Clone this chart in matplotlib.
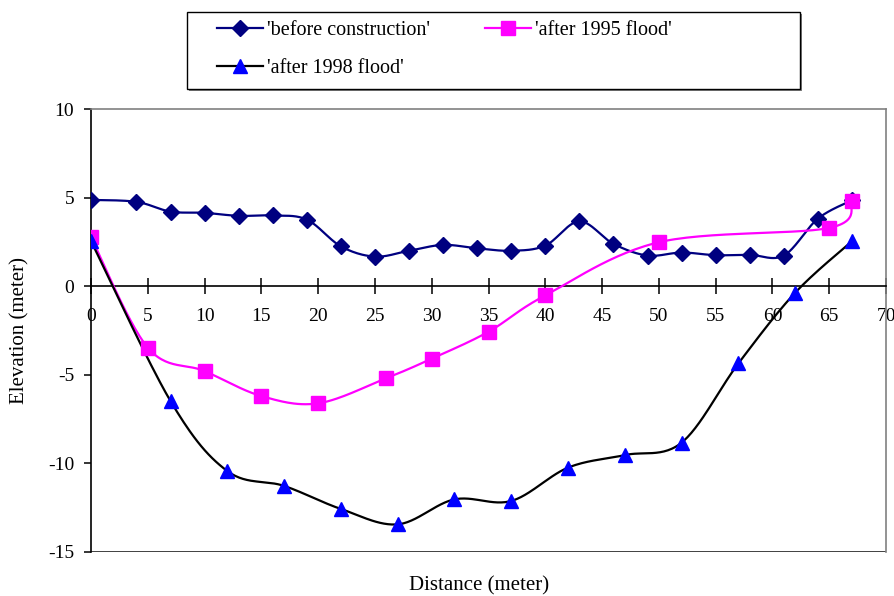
import numpy as np
import matplotlib
matplotlib.use("Agg")
import matplotlib.pyplot as plt
from matplotlib.lines import Line2D
from matplotlib.patches import Rectangle

plt.rcParams['font.family'] = ['Liberation Serif', 'DejaVu Serif']
plt.rcParams['axes.unicode_minus'] = False

# survey data
x_before = [0, 4, 7, 10, 13, 16, 19, 22, 25, 28, 31, 34, 37, 40, 43, 46, 49, 52, 55, 58, 61, 64, 67]
y_before = [4.87, 4.76, 4.21, 4.14, 3.97, 3.99, 3.76, 2.25, 1.67, 2.0, 2.33, 2.14, 2.0, 2.29, 3.66,
            2.39, 1.73, 1.9, 1.75, 1.77, 1.73, 3.81, 4.85]

x_1995 = [0, 5, 10, 15, 20, 26, 30, 35, 40, 50, 65, 67]
y_1995 = [2.76, -3.47, -4.79, -6.2, -6.61, -5.19, -4.09, -2.57, -0.52, 2.48, 3.29, 4.79]

x_1998 = [0, 7, 12, 17, 22, 27, 32, 37, 42, 47, 52, 57, 62, 67]
y_1998 = [2.55, -6.48, -10.43, -11.27, -12.57, -13.44, -12.03, -12.12, -10.24, -9.53, -8.83,
          -4.36, -0.37, 2.54]


def smooth(xs, ys, n=30):
    # Excel-style smoothed line (cardinal bezier through the points)
    p = np.column_stack([xs, ys]).astype(float)
    p = np.vstack([p[0], p, p[-1]])
    out = []
    t = np.linspace(0, 1, n)[:, None]
    for i in range(1, len(p) - 2):
        p0, p1, p2, p3 = p[i - 1], p[i], p[i + 1], p[i + 2]
        c1 = p1 + (p2 - p0) / 6
        c2 = p2 - (p3 - p1) / 6
        seg = ((1 - t) ** 3) * p1 + 3 * ((1 - t) ** 2) * t * c1 + 3 * (1 - t) * t ** 2 * c2 + t ** 3 * p2
        out.append(seg if i == 1 else seg[1:])
    s = np.vstack(out)
    return s[:, 0], s[:, 1]


W, H = 894, 596
fig = plt.figure(figsize=(W / 100, H / 100), dpi=100)
ax = fig.add_axes([91 / W, 1 - 552 / H, (886 - 91) / W, (552 - 109) / H])

navy = '#000080'
pink = '#FF00FF'

sx, sy = smooth(x_before, y_before)
ax.plot(sx, sy, color=navy, lw=1.6, zorder=3)
ax.plot(x_before, y_before, ls='none', marker='D', ms=8, color=navy, zorder=4)

sx, sy = smooth(x_1995, y_1995)
ax.plot(sx, sy, color=pink, lw=1.6, zorder=3)
ax.plot(x_1995, y_1995, ls='none', marker='s', ms=10, color=pink, zorder=5)

sx, sy = smooth(x_1998, y_1998)
ax.plot(sx, sy, color='black', lw=1.6, zorder=3)
ax.plot(x_1998, y_1998, ls='none', marker='^', ms=10, color='#0000FF', zorder=6)

ax.set_xlim(0, 70)
ax.set_ylim(-15, 10)
ax.set_xticks(range(0, 71, 5))
ax.set_yticks([-15, -10, -5, 0, 5, 10])

ax.spines['left'].set_position(('data', 0))
ax.spines['bottom'].set_position(('data', 0))
ax.spines['left'].set_color('black')
ax.spines['bottom'].set_color('black')
ax.spines['left'].set_linewidth(1.2)
ax.spines['bottom'].set_linewidth(1.2)
for s in ['top', 'right']:
    ax.spines[s].set_color('#808080')
    ax.spines[s].set_linewidth(1.2)
# plot area border bottom
ax.axhline(-15, color='#202020', lw=1.2, zorder=1)

ax.tick_params(axis='x', direction='inout', length=11, width=1.1, labelsize=14, pad=10)
ax.tick_params(axis='y', direction='out', length=5, width=1.1, labelsize=14, pad=7)

fig.text(479 / W, 1 - 586 / H, 'Distance (meter)', fontsize=15, ha='center', va='center')
fig.text(20 / W, 1 - 330 / H, 'Elevation (meter)', fontsize=15, ha='center', va='center',
         rotation=90)

# legend frame with a light shadow
fig.patches.append(Rectangle((189 / W, 1 - 91 / H), (800 - 187) / W, (89 - 12) / H,
                             transform=fig.transFigure, facecolor='#808080', edgecolor='none',
                             zorder=1))
fig.patches.append(Rectangle((187 / W, 1 - 89 / H), (800 - 187) / W, (89 - 12) / H,
                             transform=fig.transFigure, facecolor='white', edgecolor='black',
                             lw=1.0, zorder=2))

h_before = Line2D([], [], color=navy, lw=1.6, marker='D', ms=8)
h_1995 = Line2D([], [], color=pink, lw=1.6, marker='s', ms=10)
h_1998 = Line2D([], [], color='black', lw=1.6, marker='^', ms=10, mfc='#0000FF', mec='#0000FF')

leg = fig.legend([h_before, h_1998, h_1995],
                 ["'before construction'", "'after 1998 flood'", "'after 1995 flood'"],
                 ncol=2, loc='upper left', bbox_to_anchor=(217 / W, 1 - 21 / H),
                 fontsize=14.5, frameon=False, handlelength=2.3, handletextpad=0.2,
                 borderpad=0, borderaxespad=0, labelspacing=0.95, columnspacing=2.7)
leg.set_zorder(3)

fig.savefig('out.png', dpi=100)
